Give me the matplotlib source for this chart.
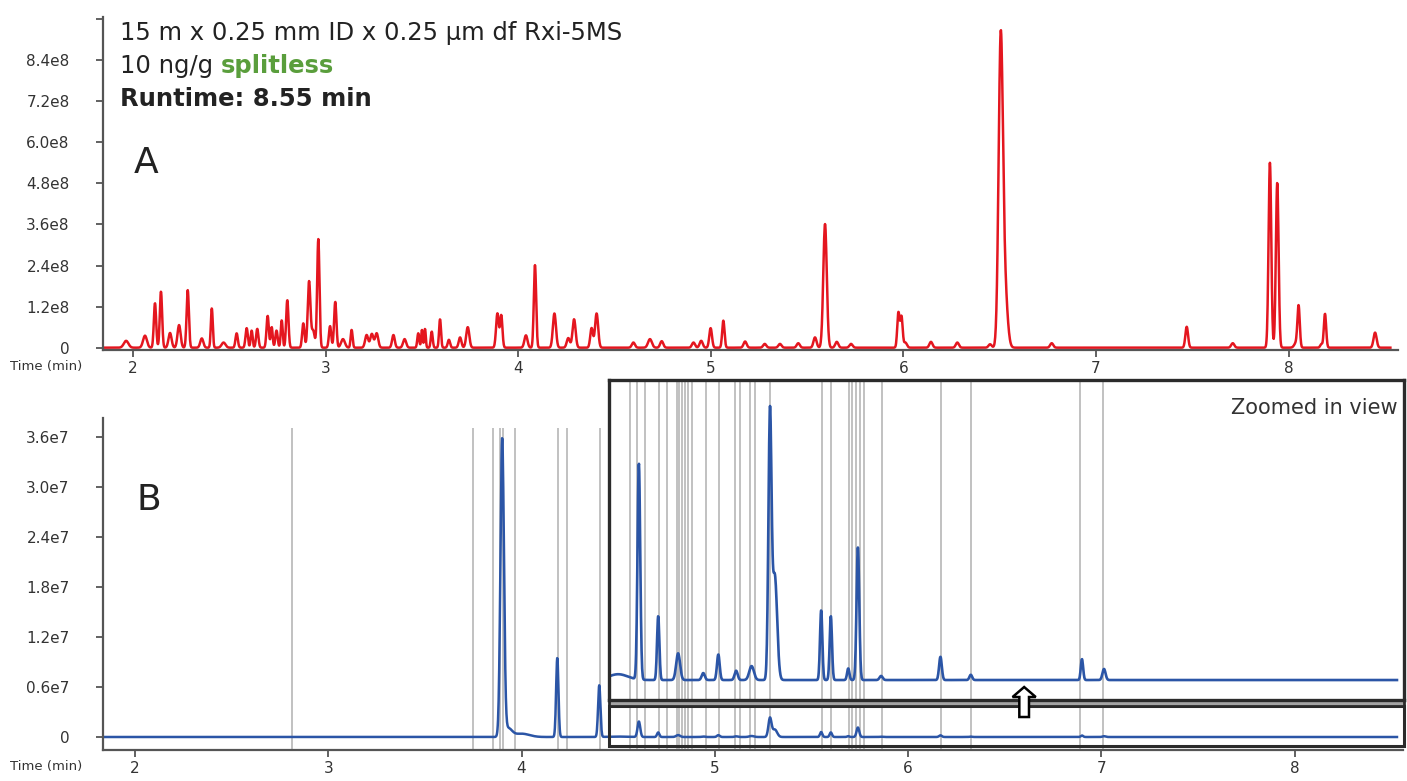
import numpy as np
import matplotlib
matplotlib.use("Agg")
import matplotlib.pyplot as plt
from matplotlib.patches import Rectangle, FancyArrow

# ---- panel A: full chromatogram (red), peak table ----
a_times = [1.964, 2.062, 2.114, 2.145, 2.192, 2.239, 2.284, 2.357, 2.409, 2.47,
           2.538, 2.590, 2.616, 2.645, 2.699, 2.720, 2.745, 2.772, 2.801, 2.884,
           2.914, 2.935, 2.962, 3.023, 3.050, 3.09, 3.135, 3.213, 3.24, 3.265,
           3.352, 3.41, 3.481, 3.500, 3.516, 3.551, 3.594, 3.64, 3.698, 3.738,
           3.892, 3.912, 4.040, 4.087, 4.188, 4.26, 4.290, 4.381, 4.407, 4.598,
           4.684, 4.745, 4.91, 4.95, 4.999, 5.065, 5.178, 5.28, 5.359, 5.454,
           5.541, 5.593, 5.654, 5.728, 5.974, 5.990, 6.01, 6.143, 6.280, 6.45,
           6.505, 6.525, 6.770, 7.471, 7.710, 7.903, 7.941, 8.04, 8.052, 8.17,
           8.189, 8.449]
a_heights = [0.20, 0.35, 1.30, 1.64, 0.43, 0.66, 1.68, 0.27, 1.15, 0.15,
             0.42, 0.57, 0.50, 0.55, 0.93, 0.60, 0.50, 0.80, 1.39, 0.71,
             1.93, 0.50, 3.17, 0.63, 1.34, 0.25, 0.52, 0.37, 0.40, 0.42,
             0.37, 0.25, 0.42, 0.52, 0.55, 0.47, 0.83, 0.23, 0.30, 0.60,
             1.00, 0.94, 0.36, 2.41, 1.00, 0.28, 0.83, 0.57, 1.00, 0.15,
             0.25, 0.19, 0.15, 0.20, 0.57, 0.79, 0.18, 0.11, 0.11, 0.13,
             0.30, 3.61, 0.17, 0.11, 1.02, 0.90, 0.15, 0.17, 0.15, 0.10,
             8.60, 1.80, 0.13, 0.61, 0.13, 5.40, 4.82, 0.15, 1.17, 0.10,
             0.99, 0.44]  # x 1e8
a_widths = [0.012, 0.010, 0.006, 0.006, 0.008, 0.008, 0.006, 0.008, 0.005, 0.010,
            0.006, 0.006, 0.005, 0.006, 0.006, 0.005, 0.006, 0.005, 0.006, 0.006,
            0.007, 0.008, 0.006, 0.006, 0.006, 0.010, 0.005, 0.008, 0.008, 0.008,
            0.007, 0.008, 0.005, 0.004, 0.004, 0.005, 0.005, 0.006, 0.007, 0.008,
            0.007, 0.006, 0.008, 0.006, 0.008, 0.008, 0.008, 0.007, 0.008, 0.008,
            0.010, 0.008, 0.008, 0.008, 0.007, 0.006, 0.008, 0.008, 0.008, 0.008,
            0.008, 0.009, 0.008, 0.008, 0.006, 0.006, 0.008, 0.008, 0.008, 0.008,
            0.011, 0.014, 0.008, 0.007, 0.008, 0.007, 0.007, 0.010, 0.006, 0.006,
            0.006, 0.008]

# ---- panel B: target ions (blue) ----
b_times = [3.900, 3.93, 4.00, 4.185, 4.402, 4.50, 4.607, 4.707, 4.81, 4.94,
           5.018, 5.11, 5.19, 5.285, 5.31, 5.55, 5.60, 5.69, 5.74, 5.86,
           6.167, 6.324, 6.899, 7.013]
b_heights = [3.56e7, 1.0e6, 4.0e5, 9.5e6, 6.2e6, 5.0e4, 1.86e6, 5.5e5, 2.3e5, 6.0e4,
             2.2e5, 8.0e4, 1.2e5, 2.25e6, 0.9e6, 6.0e5, 5.5e5, 1.0e5, 1.14e6, 3.5e4,
             2.0e5, 4.5e4, 1.8e5, 9.5e4]
b_widths = [0.009, 0.02, 0.04, 0.006, 0.006, 0.05, 0.007, 0.006, 0.010, 0.008,
            0.007, 0.008, 0.012, 0.008, 0.012, 0.006, 0.006, 0.006, 0.007, 0.008,
            0.007, 0.007, 0.006, 0.008]

# retention-time markers (gray lines)
b_marks = [2.811, 3.749, 3.852, 3.888, 3.905, 3.966, 4.189, 4.236, 4.407,
           4.562, 4.598, 4.641, 4.712, 4.753, 4.802, 4.815, 4.830, 4.845, 4.862,
           4.881, 4.953, 5.022, 5.105, 5.132, 5.180, 5.207, 5.287, 5.553, 5.603,
           5.692, 5.710, 5.730, 5.750, 5.772, 5.865, 6.170, 6.325, 6.890, 7.007]

x_ticks = [2, 3, 4, 5, 6, 7, 8]
a_yticks = [0, 1.2e8, 2.4e8, 3.6e8, 4.8e8, 6.0e8, 7.2e8, 8.4e8, 9.6e8]
a_ylabels = ['0', '1.2e8', '2.4e8', '3.6e8', '4.8e8', '6.0e8', '7.2e8', '8.4e8', '']
b_yticks = [0, 0.6e7, 1.2e7, 1.8e7, 2.4e7, 3.0e7, 3.6e7]
b_ylabels = ['0', '0.6e7', '1.2e7', '1.8e7', '2.4e7', '3.0e7', '3.6e7']


def trace(t, times, heights, widths, scale=1.0):
    y = np.zeros_like(t)
    for c, h, w in zip(times, heights, widths):
        y += h * scale * np.exp(-0.5 * ((t - c) / w) ** 2)
    return y


t = np.arange(1.84, 8.53, 0.0015)
ya = trace(t, a_times, a_heights, a_widths, 1e8)
yb = trace(t, b_times, b_heights, b_widths)

RED = '#e4161f'
BLUE = '#2b55a6'
AXC = '#555555'
TXT = '#333333'
GRAY = '#bcbcbc'

fig = plt.figure(figsize=(14.07, 7.81), dpi=100)
ax_a = fig.add_axes([0.0732, 0.5519, 0.9204, 0.4264])
ax_b = fig.add_axes([0.0732, 0.0397, 0.9240, 0.4251])


def style(ax):
    for s in ['top', 'right']:
        ax.spines[s].set_visible(False)
    for s in ['left', 'bottom']:
        ax.spines[s].set_color(AXC)
        ax.spines[s].set_linewidth(1.6)
    ax.tick_params(axis='y', direction='out', length=5, width=1.3, color=AXC,
                   labelsize=11, labelcolor=TXT, pad=19)
    ax.tick_params(axis='x', direction='out', length=5, width=1.3, color=AXC,
                   labelsize=11, labelcolor=TXT, pad=3)
    ax.set_xticks(x_ticks)
    ax.annotate('Time (min)', xy=(0, 0), xycoords='axes fraction',
                xytext=(-93, -10), textcoords='offset pixels',
                ha='left', va='top', fontsize=9.5, color=TXT)


# ---- panel A ----
style(ax_a)
ax_a.plot(t, ya, color=RED, lw=1.8)
ax_a.set_xlim(1.844, 8.568)
ax_a.set_ylim(-6.7e6, 9.66e8)
ax_a.set_yticks(a_yticks)
ax_a.set_yticklabels(a_ylabels)

ax_a.text(0.013, 0.952, '15 m x 0.25 mm ID x 0.25 \u00b5m df Rxi-5MS', transform=ax_a.transAxes,
          fontsize=17.5, color='#222222', va='center', ha='left')
t2 = ax_a.text(0.013, 0.853, '10 ng/g ', transform=ax_a.transAxes,
               fontsize=17.5, color='#222222', va='center', ha='left')
ax_a.annotate('splitless', xy=(1, 0.5), xycoords=t2, va='center', ha='left',
              fontsize=17.5, fontweight='bold', color='#5a9e3c')
ax_a.text(0.013, 0.754, 'Runtime: 8.55 min', transform=ax_a.transAxes,
          fontsize=17.5, fontweight='bold', color='#222222', va='center', ha='left')
ax_a.text(0.024, 0.56, 'A', transform=ax_a.transAxes, fontsize=26,
          color='#222222', va='center', ha='left')

# ---- panel B ----
style(ax_b)
ax_b.set_xlim(1.835, 8.56)
ax_b.set_ylim(-1.56e6, 3.83e7)
ax_b.set_yticks(b_yticks)
ax_b.set_yticklabels(b_ylabels)
ax_b.vlines(b_marks, -1.56e6, 3.71e7, color=GRAY, lw=1.3, zorder=1)
ax_b.plot(t, yb, color=BLUE, lw=1.8, zorder=2)
ax_b.text(0.026, 0.753, 'B', transform=ax_b.transAxes, fontsize=26,
          color='#222222', va='center', ha='left')

# zoom boxes
zx0, zx1 = 4.45, 8.565
low_y0, low_y1 = -1.08e6, 3.72e6
ins_y0, ins_y1 = 4.44e6, 4.284e7
ax_b.add_patch(Rectangle((zx0, low_y0), zx1 - zx0, low_y1 - low_y0, fill=False,
                         edgecolor='#2b2b2b', lw=2.2, clip_on=False, zorder=3))
ax_b.add_patch(Rectangle((zx0, low_y1), zx1 - zx0, ins_y0 - low_y1, facecolor='#a5a5a5',
                         edgecolor='#2b2b2b', lw=2.0, clip_on=False, zorder=3))

ins = ax_b.inset_axes([zx0, ins_y0, zx1 - zx0, ins_y1 - ins_y0], transform=ax_b.transData)
ins.set_xlim(zx0, zx1)
ins.set_ylim(-1.72e5, 2.58e6)
ins.set_xticks([])
ins.set_yticks([])
for s in ins.spines.values():
    s.set_color('#2b2b2b')
    s.set_linewidth(2.4)
for m in b_marks:
    if m > zx0:
        ins.axvline(m, color=GRAY, lw=1.3, zorder=1)
ins.plot(t, yb, color=BLUE, lw=1.9, zorder=2)
ins.text(0.992, 0.945, 'Zoomed in view', transform=ins.transAxes, ha='right', va='top',
         fontsize=15, color=TXT)

arrow = FancyArrow(6.60, 2.4e6, 0, 3.6e6, width=0.05, head_width=0.12, head_length=1.2e6,
                   length_includes_head=True, facecolor='white', edgecolor='black',
                   lw=1.8, transform=ax_b.transData, zorder=20)
fig.add_artist(arrow)

fig.savefig('out.png', dpi=100)
